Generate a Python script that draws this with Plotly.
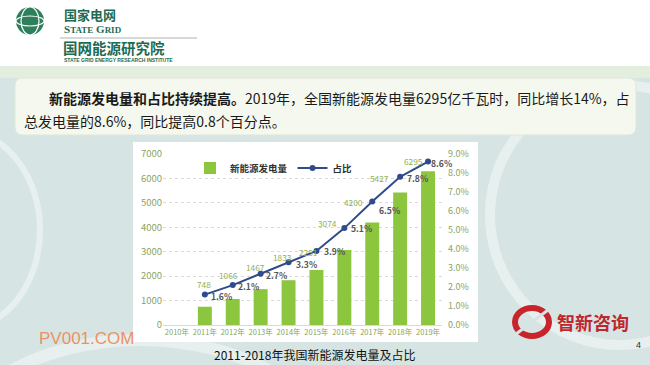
import plotly.graph_objects as go

# ---------------- data ----------------
categories = ["2010年", "2011年", "2012年", "2013年", "2014年", "2015年", "2016年", "2017年", "2018年", "2019年"]
years = ["2011年", "2012年", "2013年", "2014年", "2015年", "2016年", "2017年", "2018年", "2019年"]
generation = [748, 1066, 1467, 1833, 2251, 3074, 4200, 5427, 6295]          # 亿千瓦时
share = [0.016, 0.021, 0.027, 0.033, 0.039, 0.051, 0.065, 0.078, 0.086]   # 占比
share_labels = ["1.6%", "2.1%", "2.7%", "3.3%", "3.9%", "5.1%", "6.5%", "7.8%", "8.6%"]

# label nudges in pixels (layout only)
bar_label_nudge = [(-1, 23), (-4, 24), (-5, 22), (-6, 23), (-8, 18), (-17, 27), (-19, 20), (-21, 14), (-15, 10)]
pct_label_nudge = [(17, -1), (16, -1), (16, -1), (18, -2), (18, 0), (17, 0), (17, -8), (17, -1), (13, -1)]

W, H = 650, 365
L, R, T, B = 163, 442, 154, 325
CJK = "Noto Sans CJK SC"
BODY = "#d6e5e3"


def px(x):
    return (x - L) / (R - L)


def py(y):
    return (B - y) / (B - T)


fig = go.Figure()
fig.add_trace(go.Bar(
    x=years, y=generation, name="新能源发电量",
    marker=dict(color="#8cc63f", line=dict(width=0)), width=0.5,
))
fig.add_trace(go.Scatter(
    x=years, y=share, name="占比", yaxis="y2", mode="lines+markers",
    line=dict(color="#2f4b8c", width=2),
    marker=dict(color="#2f4b8c", size=6),
))

shapes = []
annotations = []


def rect(x0, y0, x1, y1, fill, line=None, layer="below", opacity=1):
    shapes.append(dict(type="rect", xref="paper", yref="paper",
                       x0=px(x0), x1=px(x1), y0=py(y1), y1=py(y0),
                       fillcolor=fill, line=line or dict(width=0), layer=layer, opacity=opacity))


def circle(cx, cy, rx, ry, fill="rgba(0,0,0,0)", line=None, layer="below", opacity=1):
    shapes.append(dict(type="circle", xref="paper", yref="paper",
                       x0=px(cx - rx), x1=px(cx + rx), y0=py(cy + ry), y1=py(cy - ry),
                       fillcolor=fill, line=line or dict(width=0), layer=layer, opacity=opacity))


def text(x, y, s, size, color="#222", family=CJK, xanchor="center", weight="normal"):
    annotations.append(dict(xref="paper", yref="paper", x=px(x), y=py(y), text=s,
                            showarrow=False, xanchor=xanchor, yanchor="middle",
                            font=dict(size=size, color=color, family=family, weight=weight)))


# slide background
rect(0, 66, 650, 365, BODY)
rect(0, 66, 650, 78, "#e4eede")
# decorative white arcs
circle(620, 215, 130, 130, line=dict(color="white", width=10), opacity=0.45)
circle(-40, 230, 80, 100, line=dict(color="white", width=6), opacity=0.45)
circle(140, 470, 200, 130, line=dict(color="white", width=12), opacity=0.45)
# text box
shapes.append(dict(type="path", xref="paper", yref="paper", layer="below",
                   path=("M {a},{b} L {c},{b} Q {d},{b} {d},{e} L {d},{f} Q {d},{g} {c},{g} "
                         "L {a},{g} Q {h},{g} {h},{f} L {h},{e} Q {h},{b} {a},{b} Z").format(
                       a=px(23), b=py(78), c=px(628), d=px(636), e=py(86), f=py(127), g=py(135), h=px(15)),
                   fillcolor="#f4f8ee", line=dict(color="#dfe8d6", width=1)))
# chart white box
rect(133, 142, 478, 342, "white")

# header logo (State Grid)
circle(30, 21, 14, 14, fill="#2e7f5c")
circle(30, 21, 9, 14, line=dict(color="white", width=1.2))
circle(30, 21, 14, 5, line=dict(color="white", width=1.2))
text(62, 14, "国家电网", 13, color="#1e6b52", xanchor="left", weight="bold")
text(62, 29.5, "S<span style='font-size:9px'>TATE</span> G<span style='font-size:9px'>RID</span>", 11,
     color="#1e6b52", family="Liberation Serif", xanchor="left", weight="bold")
shapes.append(dict(type="line", xref="paper", yref="paper", x0=px(60), x1=px(197), y0=py(38), y1=py(38),
                   line=dict(color="#a9b4b0", width=1), layer="below"))
text(61, 47.5, "国网能源研究院", 14.5, color="#1e6b52", xanchor="left", weight="bold")
text(62, 59.5, "STATE GRID ENERGY RESEARCH INSTITUTE", 5, color="#1e6b52", family="Liberation Sans",
     xanchor="left", weight="bold")

# intro text
text(47, 98, "<b>新能源发电量和占比持续提高。</b>2019年，全国新能源发电量6295亿千瓦时，同比增长14%，占",
     14, color="#1a1a1a", xanchor="left")
text(22, 121, "总发电量的8.6%，同比提高0.8个百分点。", 14, color="#1a1a1a", xanchor="left")

# chart caption
text(314, 354, "2011-2018年我国新能源发电量及占比", 12, color="#111")

# watermark and footer logo
text(86, 338, "PV001.COM", 17, color="#eb9265", family="Liberation Sans")
circle(532, 322, 17, 14, line=dict(color="#c9232c", width=6))
shapes.append(dict(type="line", xref="paper", yref="paper", x0=px(516), x1=px(548), y0=py(334), y1=py(310),
                   line=dict(color=BODY, width=3)))
text(593, 322, "智新咨询", 18, color="#c0262e", weight="bold")
text(638, 345, "4", 9, color="#333", family="Liberation Sans")

# data labels
for yr, v, (dx, dy) in zip(years, generation, bar_label_nudge):
    annotations.append(dict(x=yr, y=v, xref="x", yref="y", text=str(v), showarrow=False,
                            xshift=dx, yshift=dy, font=dict(size=8.3, color="#8db257", family=CJK)))
for yr, v, lab, (dx, dy) in zip(years, share, share_labels, pct_label_nudge):
    annotations.append(dict(x=yr, y=v, xref="x", yref="y2", text=lab, showarrow=False,
                            xshift=dx, yshift=dy, font=dict(size=8.6, color="#555", family=CJK, weight="bold")))

fig.update_layout(
    width=W, height=H,
    margin=dict(l=L, r=W - R, t=T, b=H - B, pad=0),
    paper_bgcolor="white", plot_bgcolor="rgba(0,0,0,0)",
    font=dict(family=CJK),
    shapes=shapes, annotations=annotations,
    showlegend=True,
    legend=dict(orientation="h", x=px(190), y=py(168), xanchor="left", yanchor="middle",
                bgcolor="rgba(0,0,0,0)", font=dict(size=9.5, color="#333", family=CJK, weight="bold"),
                itemwidth=30, tracegroupgap=0),
    bargap=0.5,
    xaxis=dict(type="category", categoryorder="array", categoryarray=categories, range=[-0.5, 9.5],
               showline=True, linecolor="#d9d9d9", linewidth=1, ticks="", showgrid=False,
               tickfont=dict(size=7.5, color="#8aa35f", family=CJK)),
    yaxis=dict(range=[0, 7000], dtick=1000, showgrid=True, gridcolor="#d9d9d9", griddash="dot",
               gridwidth=1, zeroline=False, ticks="", showline=False,
               tickfont=dict(size=9.5, color="#8aa35f", family=CJK)),
    yaxis2=dict(overlaying="y", side="right", range=[0, 0.09], dtick=0.01, tickformat=".1%",
                showgrid=False, zeroline=False, ticks="", showline=False, ticklabelstandoff=5,
                tickfont=dict(size=9, color="#8aa35f", family=CJK)),
)

fig.write_html("out.html", config={"displayModeBar": False},
               post_script="document.body.style.margin='0';document.body.style.overflow='hidden';")
